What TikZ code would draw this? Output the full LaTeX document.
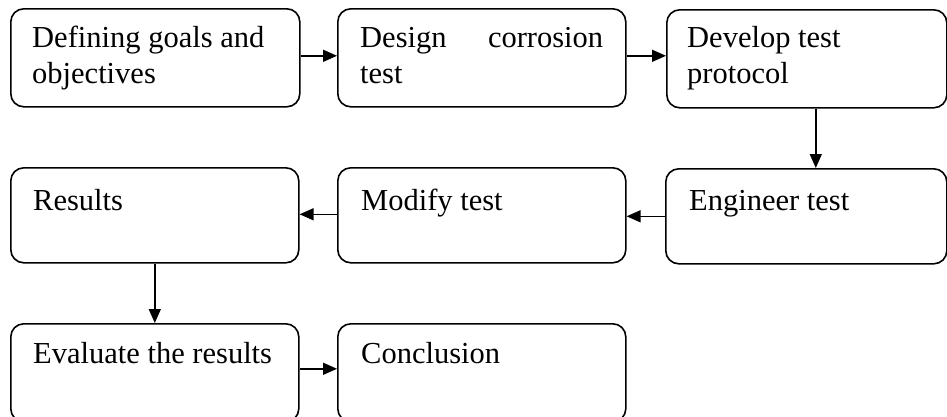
\documentclass[tikz,border=0pt]{standalone}
\usepackage{fontspec}
\setmainfont{Liberation Serif}
\usetikzlibrary{arrows.meta}
\begin{document}
\begin{tikzpicture}[x=1pt,y=-1pt,
  box/.style={draw, line width=1.6pt, rounded corners=13pt, anchor=north west, inner sep=0pt},
  arr/.style={line width=1.5pt, -{Triangle[length=14pt,width=12pt]}},
  txt/.style={inner sep=0pt, anchor=base west, align=left, font=\fontsize{30.5}{36}\selectfont}]
\clip (0,0) rectangle (947,416);
% boxes
\node[box, minimum width=289pt, minimum height=98pt] (b1) at (10,8) {};
\node[box, minimum width=288pt, minimum height=98pt] (b2) at (337,8) {};
\node[box, minimum width=280pt, minimum height=98pt] (b3) at (666,9) {};
\node[box, minimum width=288pt, minimum height=95pt] (b4) at (10,167) {};
\node[box, minimum width=288pt, minimum height=95pt] (b5) at (337,167) {};
\node[box, minimum width=281pt, minimum height=95pt] (b6) at (665,168) {};
\node[box, minimum width=288pt, minimum height=98pt] (b7) at (10,323) {};
\node[box, minimum width=288pt, minimum height=98pt] (b8) at (337,323) {};
% texts (base anchor = baseline of the last line)
\node[txt] (t1) at (32,83) {Defining goals and\\objectives};
\node[txt] (t2) at (360,83) {\hbox to 243pt{Design\hfill corrosion}\\test};
\node[txt] (t3) at (687,83) {Develop test\\protocol};
\node[txt] (t4) at (33,210) {Results};
\node[txt] (t5) at (361,210) {Modify test};
\node[txt] (t6) at (689,210) {Engineer test};
\node[txt] (t7) at (33,363) {Evaluate the results};
\node[txt] (t8) at (361,363) {Conclusion};
% connectors
\draw[arr] ([yshift=2pt]b1.east) -- ([yshift=2pt]b1.east -| b2.west);
\draw[arr] ([yshift=2pt]b2.east) -- ([yshift=2pt]b2.east -| b3.west);
\draw[arr] ([xshift=9pt]b3.south) -- ([xshift=9pt]b3.south |- b6.north);
\draw[arr] (b6.west) -- (b6.west -| b5.east);
\draw[arr] ([yshift=1pt]b5.west) -- ([yshift=1pt]b5.west -| b4.east);
\draw[arr] (b4.south) -- (b4.south |- b7.north);
\draw[arr] ([yshift=4pt]b7.east) -- ([yshift=4pt]b7.east -| b8.west);
\end{tikzpicture}
\end{document}
